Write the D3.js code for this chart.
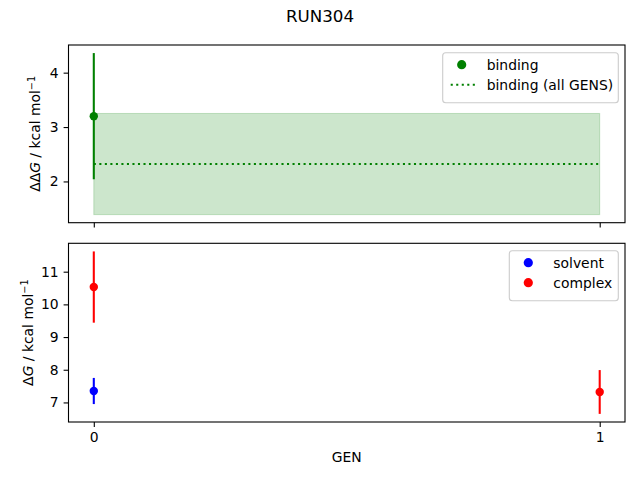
<!DOCTYPE html>
<html lang="en">
<head>
<meta charset="UTF-8">
<title>RUN304</title>
<script src="https://d3js.org/d3.v7.min.js"></script>
<style>
  body { margin: 0; background: #fff; }
  svg text { font-family: "DejaVu Sans", sans-serif; fill: #000; }
</style>
</head>
<body>
<svg id="chart" width="640" height="480"></svg>
<script>
// data
const gens = [0, 1];
const genTicks = ["0", "1"];

const bindingGens = [0];
const bindingVals = [3.20];
const bindingErrs = [1.16];
const bindingAll = [2.32];      // mean over all GENS
const bindingAllErr = [0.93];

const solventGens = [0];
const solventVals = [7.35];
const solventErrs = [0.40];

const complexGens = [0, 1];
const complexVals = [10.53, 7.32];
const complexErrs = [1.09, 0.67];

const topTicks = [2, 3, 4];
const bottomTicks = [7, 8, 9, 10, 11];

const svg = d3.select('#chart');
const left = 68.5, right = 625,
    top1 = 45, bot1 = 222.7,
    top2 = 243.3, bot2 = 422;

const fs = 13.9;
const tickLen = 4.9, tickPad = 4.9;
const markerR = 4.2, errW = 2.08;

// shared x axis, matplotlib-like 5% margins
const x = d3.scaleLinear().domain([-0.05, 1.05]).range([left, right]);

function padded(lo, hi) {
    const m = (hi - lo) * 0.05;
    return [lo - m, hi + m];
}

// top panel extent: error bars + band
const topLo = Math.min(d3.min(bindingVals, (v, i) => v - bindingErrs[i]), bindingAll[0] - bindingAllErr[0]);
const topHi = Math.max(d3.max(bindingVals, (v, i) => v + bindingErrs[i]), bindingAll[0] + bindingAllErr[0]);
const y1 = d3.scaleLinear().domain(padded(topLo, topHi)).range([bot1, top1]);

const allVals = solventVals.map((v, i) => [v - solventErrs[i], v + solventErrs[i]])
    .concat(complexVals.map((v, i) => [v - complexErrs[i], v + complexErrs[i]]));
const y2 = d3.scaleLinear()
    .domain(padded(d3.min(allVals, d => d[0]), d3.max(allVals, d => d[1])))
    .range([bot2, top2]);

// ---------- top panel ----------
const g1 = svg.append('g');

g1.append('rect')
    .attr('x', x(gens[0]))
    .attr('width', x(gens[gens.length - 1]) - x(gens[0]))
    .attr('y', y1(bindingAll[0] + bindingAllErr[0]))
    .attr('height', y1(bindingAll[0] - bindingAllErr[0]) - y1(bindingAll[0] + bindingAllErr[0]))
    .attr('fill', 'green').attr('fill-opacity', 0.2)
    .attr('stroke', 'green').attr('stroke-opacity', 0.2);

g1.append('line')
    .attr('x1', x(gens[0])).attr('x2', x(gens[gens.length - 1]))
    .attr('y1', y1(bindingAll[0])).attr('y2', y1(bindingAll[0]))
    .attr('stroke', 'green').attr('stroke-width', 2.08)
    .attr('stroke-dasharray', '2.08,3.44');

function errorPoints(g, y, xs, vals, errs, color) {
    xs.forEach((gx, i) => {
        g.append('line')
            .attr('x1', x(gx)).attr('x2', x(gx))
            .attr('y1', y(vals[i] - errs[i])).attr('y2', y(vals[i] + errs[i]))
            .attr('stroke', color).attr('stroke-width', errW);
        g.append('circle')
            .attr('cx', x(gx)).attr('cy', y(vals[i])).attr('r', markerR)
            .attr('fill', color);
    });
}

errorPoints(g1, y1, bindingGens, bindingVals, bindingErrs, 'green');

// ---------- bottom panel ----------
const g2 = svg.append('g');
errorPoints(g2, y2, solventGens, solventVals, solventErrs, 'blue');
errorPoints(g2, y2, complexGens, complexVals, complexErrs, 'red');

// ---------- axes ----------
function frame(top, bot) {
    svg.append('rect')
        .attr('x', left).attr('y', top)
        .attr('width', right - left).attr('height', bot - top)
        .attr('fill', 'none').attr('stroke', '#000').attr('stroke-width', 1.1);
}
frame(top1, bot1);
frame(top2, bot2);

function yAxis(y, ticks) {
    const ax = d3.axisLeft(y).tickValues(ticks).tickSize(tickLen).tickPadding(tickPad)
        .tickFormat(d3.format('d'));
    const g = svg.append('g').attr('transform', `translate(${left},0)`).call(ax);
    g.select('.domain').remove();
    g.selectAll('.tick line').attr('stroke-width', 1.1);
    g.selectAll('.tick text').attr('font-size', fs).attr('font-family', '"DejaVu Sans", sans-serif');
}
yAxis(y1, topTicks);
yAxis(y2, bottomTicks);

function xAxis(bot, labels) {
    const ax = d3.axisBottom(x).tickValues(gens).tickSize(tickLen).tickPadding(tickPad)
        .tickFormat((d, i) => labels ? labels[i] : '');
    const g = svg.append('g').attr('transform', `translate(0,${bot})`).call(ax);
    g.select('.domain').remove();
    g.selectAll('.tick line').attr('stroke-width', 1.1);
    g.selectAll('.tick text').attr('font-size', fs).attr('font-family', '"DejaVu Sans", sans-serif');
}
xAxis(bot1, null);
xAxis(bot2, genTicks);

// ---------- labels ----------
svg.append('text').attr('x', 320).attr('y', 22).attr('text-anchor', 'middle')
    .attr('font-size', 16.7).text('RUN304');

svg.append('text').attr('x', (left + right) / 2).attr('y', 462).attr('text-anchor', 'middle')
    .attr('font-size', fs).text('GEN');

function yLabel(cx, cy, delta) {
    const t = svg.append('text')
        .attr('transform', `translate(${cx},${cy}) rotate(-90)`)
        .attr('text-anchor', 'middle').attr('font-size', fs);
    t.append('tspan').text(delta);
    t.append('tspan').attr('font-style', 'italic').text('G');
    t.append('tspan').text(' / kcal mol');
    t.append('tspan').attr('font-size', fs * 0.7).attr('dy', -5.5).text('\u22121');
}
yLabel(40, (top1 + bot1) / 2, '\u0394\u0394');
yLabel(33, (top2 + bot2) / 2, '\u0394');

// ---------- legends ----------
function legend(x0, y0, w, items) {
    const h = 10 + items.length * 20;
    const g = svg.append('g');
    g.append('rect')
        .attr('x', x0).attr('y', y0).attr('width', w).attr('height', h)
        .attr('rx', 3).attr('fill', '#fff').attr('fill-opacity', 0.8)
        .attr('stroke', '#cccccc').attr('stroke-width', 1.1);
    items.forEach((it, i) => {
        const cy = y0 + 12 + i * 20;
        if (it.kind === 'dot') {
            g.append('circle').attr('cx', x0 + 19).attr('cy', cy).attr('r', 4.6).attr('fill', it.color);
        } else {
            g.append('line').attr('x1', x0 + 8).attr('x2', x0 + 33)
                .attr('y1', cy).attr('y2', cy)
                .attr('stroke', it.color).attr('stroke-width', 2.08)
                .attr('stroke-dasharray', '2.08,3.44');
        }
        g.append('text').attr('x', x0 + 44).attr('y', cy + 5)
            .attr('font-size', fs).text(it.label);
    });
}
legend(442.7, 52.7, 175.6, [
    { kind: 'dot', color: 'green', label: 'binding' },
    { kind: 'line', color: 'green', label: 'binding (all GENS)' }
]);
legend(509.3, 250.7, 109, [
    { kind: 'dot', color: 'blue', label: 'solvent' },
    { kind: 'dot', color: 'red', label: 'complex' }
]);
</script>
</body>
</html>
